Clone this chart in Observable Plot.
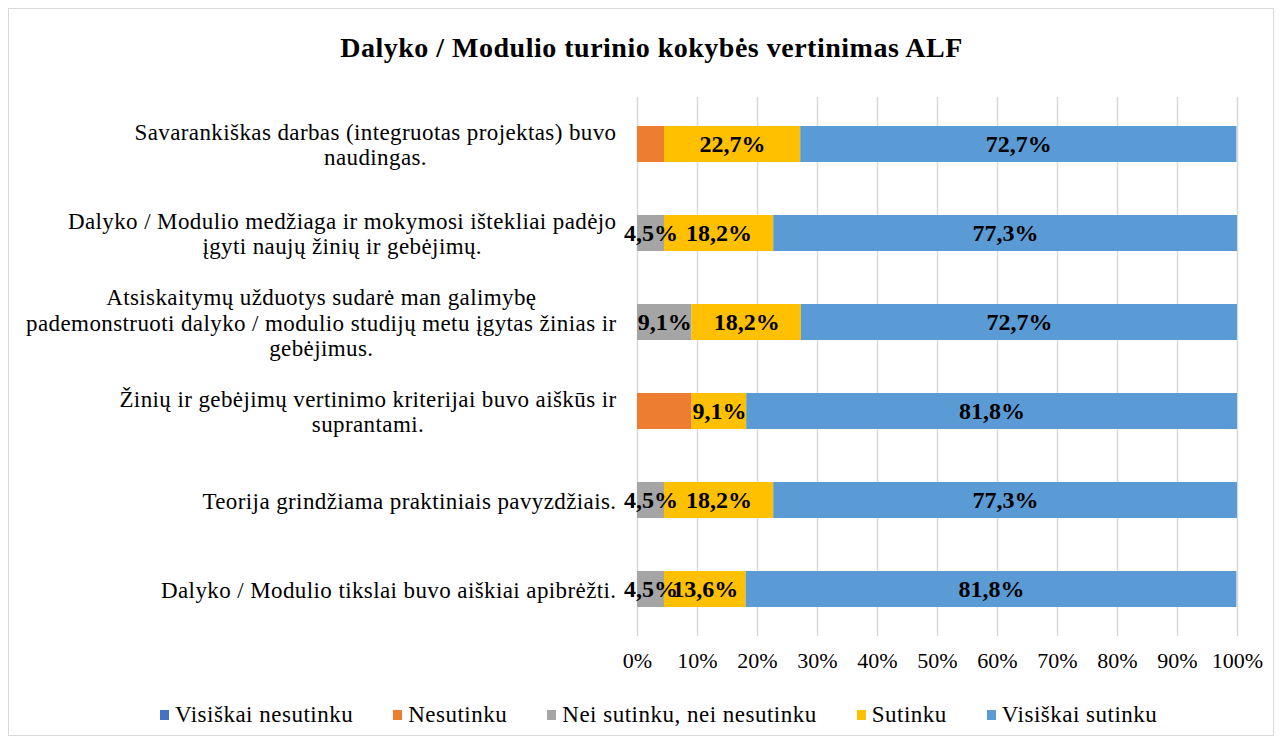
<!DOCTYPE html>
<html>
<head>
<meta charset="utf-8">
<script src="https://cdn.jsdelivr.net/npm/d3@7"></script>
<script src="https://cdn.jsdelivr.net/npm/@observablehq/plot@0.6"></script>
<style>
  html, body { margin: 0; padding: 0; background: #fff; }
  #wrap { position: relative; width: 1283px; height: 745px; font-family: "Liberation Serif", "Times New Roman", serif; }
  #frame { position: absolute; left: 8px; top: 8px; width: 1266px; height: 728px; border: 1px solid #d9d9d9; box-sizing: border-box; }
  #title { position: absolute; left: 0; width: 1283px; top: 34px; line-height: 28px; text-align: center; font-weight: bold; font-size: 28px; color: #000; padding-left: 20px; box-sizing: border-box; letter-spacing: 0.5px; }
  #chart { position: absolute; left: 0; top: 80px; }
  #legend { position: absolute; left: 160px; top: 703px; display: flex; gap: 40px; font-size: 23px; line-height: 24px; color: #000; letter-spacing: 0.5px; white-space: nowrap; }
  .item { display: flex; align-items: center; gap: 6px; }
  .sw { width: 9px; height: 10px; display: inline-block; }
</style>
</head>
<body>
<div id="wrap">
  <div id="frame"></div>
  <div id="title">Dalyko / Modulio turinio kokybės vertinimas ALF</div>
  <div id="chart"></div>
  <div id="legend"></div>
</div>
<script>
// ---- Data ----
const categories = [
  "Savarankiškas darbas (integruotas projektas) buvo\nnaudingas.",
  "Dalyko / Modulio medžiaga ir mokymosi ištekliai padėjo\nįgyti naujų žinių ir gebėjimų.",
  "Atsiskaitymų užduotys sudarė man galimybę\npademonstruoti dalyko / modulio studijų metu įgytas žinias ir\ngebėjimus.",
  "Žinių ir gebėjimų vertinimo kriterijai buvo aiškūs ir\nsuprantami.",
  "Teorija grindžiama praktiniais pavyzdžiais.",
  "Dalyko / Modulio tikslai buvo aiškiai apibrėžti."
];
const seriesNames = ["Visiškai nesutinku", "Nesutinku", "Nei sutinku, nei nesutinku", "Sutinku", "Visiškai sutinku"];
const seriesColors = ["#4472C4", "#ED7D31", "#A5A5A5", "#FFC000", "#5B9BD5"];
const visiskaiNesutinku = [0, 0, 0, 0, 0, 0];
const nesutinku = [4.5, 0, 0, 9.1, 0, 0];
const neiSutinkuNeiNesutinku = [0, 4.5, 9.1, 0, 4.5, 4.5];
const sutinku = [22.7, 18.2, 18.2, 9.1, 18.2, 13.6];
const visiskaiSutinku = [72.7, 77.3, 72.7, 81.8, 77.3, 81.8];
const labelledSeries = ["Nei sutinku, nei nesutinku", "Sutinku", "Visiškai sutinku"];
const xTicks = [0, 10, 20, 30, 40, 50, 60, 70, 80, 90, 100];
const xTickLabels = ["0%", "10%", "20%", "30%", "40%", "50%", "60%", "70%", "80%", "90%", "100%"];

// ---- Build table ----
const seriesValues = [visiskaiNesutinku, nesutinku, neiSutinkuNeiNesutinku, sutinku, visiskaiSutinku];
const data = [];
seriesNames.forEach((s, si) => {
  categories.forEach((c, ci) => {
    data.push({ category: c, series: s, value: seriesValues[si][ci] });
  });
});
const fmt = v => v.toFixed(1).replace(".", ",") + "%";

const font = '"Liberation Serif", "Times New Roman", serif';

const plot = Plot.plot({
  width: 1283,
  height: 601,
  marginLeft: 637,
  marginRight: 46,
  marginTop: 17,
  marginBottom: 45,
  style: { fontFamily: font, fontSize: "22px", color: "#000", background: "transparent" },
  x: { domain: [0, 100] },
  y: { domain: categories, paddingInner: 0.6, paddingOuter: 0.3 },
  color: { domain: seriesNames, range: seriesColors },
  marks: [
    Plot.gridX(xTicks, { stroke: "#d9d9d9", strokeOpacity: 1, strokeWidth: 1.5 }),
    Plot.barX(data, Plot.stackX({ x: "value", y: "category", fill: "series", z: "series" })),
    Plot.text(data, Plot.stackX({
      x: "value", y: "category", z: "series",
      text: d => (labelledSeries.includes(d.series) && d.value > 0) ? fmt(d.value) : "",
      fontWeight: "bold", fontSize: 24, fill: "#000"
    })),
    Plot.axisX(xTicks, { tickSize: 0, tickPadding: 16, tickFormat: (d, i) => xTickLabels[i], fontSize: 22, label: null }),
    Plot.axisY({ tickSize: 0, tickPadding: 21, fontSize: 23, label: null, lineHeight: 1.1, textOverflow: null })
  ]
});
document.getElementById("chart").appendChild(plot);

// Center multi-line category labels within their own block (right edge at the axis padding)
plot.querySelectorAll('g[aria-label="y-axis tick label"] text').forEach(t => {
  t.setAttribute("letter-spacing", "0.4px");
  const spans = t.querySelectorAll("tspan");
  let w = 0;
  if (spans.length) spans.forEach(s => { w = Math.max(w, s.getComputedTextLength()); });
  else w = t.getComputedTextLength();
  t.setAttribute("text-anchor", "middle");
  const tr = t.getAttribute("transform") || "";
  t.setAttribute("transform", tr + ` translate(${-w / 2},0)`);
});

// Legend
const lg = document.getElementById("legend");
seriesNames.forEach((s, i) => {
  const it = document.createElement("div");
  it.className = "item";
  const sw = document.createElement("span");
  sw.className = "sw";
  sw.style.background = seriesColors[i];
  const tx = document.createElement("span");
  tx.textContent = s;
  it.appendChild(sw); it.appendChild(tx);
  lg.appendChild(it);
});
</script>
</body>
</html>
